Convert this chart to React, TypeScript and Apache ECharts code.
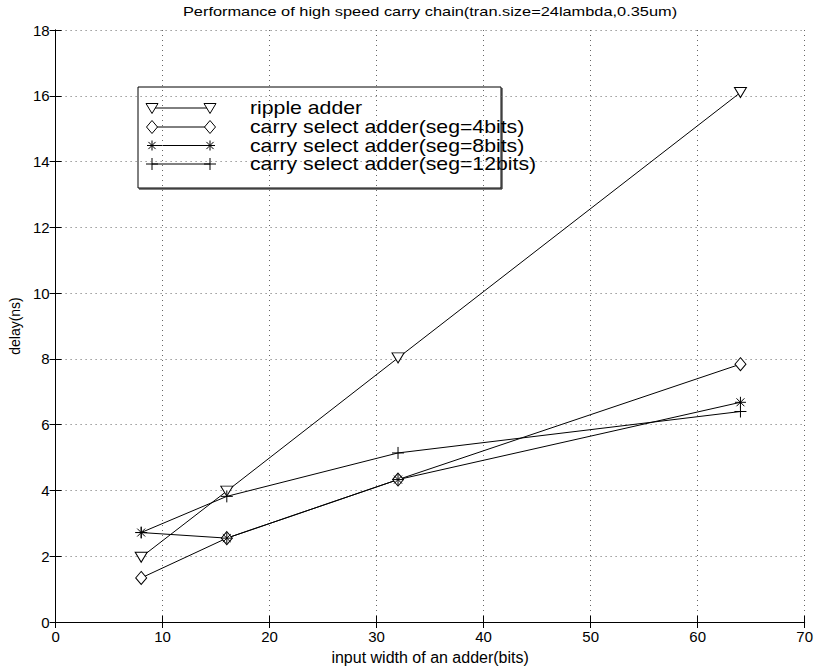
import React, { useEffect, useRef } from "react";
import * as echarts from "echarts";

// Adder input width (bits) on the x axis
const inputWidths = [8, 16, 32, 64];

// Measured delay (ns) per adder design
const rippleDelay = [1.97, 3.98, 8.03, 16.1];
const csaSeg4Delay = [1.34, 2.55, 4.33, 7.84];
const csaSeg8Delay = [2.72, 2.55, 4.33, 6.68];
const csaSeg12Delay = [2.72, 3.82, 5.14, 6.4];

const seriesNames = [
  "ripple adder",
  "carry select adder(seg=4bits)",
  "carry select adder(seg=8bits)",
  "carry select adder(seg=12bits)",
];

const titleText = "Performance of high speed carry chain(tran.size=24lambda,0.35um)";
const xAxisName = "input width of an adder(bits)";
const yAxisName = "delay(ns)";

const FONT = "'Liberation Sans', Arial, Helvetica, sans-serif";

const starPath =
  "path://M0,-1L0,1M-1,0L1,0M-0.72,-0.72L0.72,0.72M-0.72,0.72L0.72,-0.72";
const plusPath = "path://M0,-1L0,1M-1,0L1,0";

const toPairs = (ys: number[]) => inputWidths.map((x, i) => [x, ys[i]]);

export default function App() {
  const ref = useRef<HTMLDivElement>(null);

  useEffect(() => {
    document.body.style.margin = "0";
    if (!ref.current) return;
    const chart = echarts.init(ref.current, undefined, { renderer: "svg" });

    const gridL = 55;
    const gridT = 30;
    const gridR = 11;
    const gridB = 47;

    const baseSeries = {
      type: "line" as const,
      lineStyle: { color: "#000", width: 1 },
      emphasis: { disabled: true },
      z: 3,
    };

    // Legend drawn MATLAB-style: line sample with a marker at both ends
    const legX = 138;
    const legY = 87;
    const legW = 363;
    const legH = 101;
    const rowY = [108, 127, 145.5, 164];
    const sx0 = 152;
    const sx1 = 210;
    const textX = 250;

    const triangle = (cx: number, cy: number) => ({
      type: "polygon",
      shape: {
        points: [
          [cx - 6, cy - 4.5],
          [cx + 6, cy - 4.5],
          [cx, cy + 5.5],
        ],
      },
      style: { fill: "#fff", stroke: "#000", lineWidth: 1 },
    });
    const diamond = (cx: number, cy: number) => ({
      type: "polygon",
      shape: {
        points: [
          [cx, cy - 6.5],
          [cx + 5.5, cy],
          [cx, cy + 6.5],
          [cx - 5.5, cy],
        ],
      },
      style: { fill: "#fff", stroke: "#000", lineWidth: 1 },
    });
    const seg = (x1: number, y1: number, x2: number, y2: number) => ({
      type: "line",
      shape: { x1, y1, x2, y2 },
      style: { stroke: "#000", lineWidth: 1 },
    });
    const star = (cx: number, cy: number) => {
      const r = 5;
      const d = 3.6;
      return [
        seg(cx, cy - r, cx, cy + r),
        seg(cx - r, cy, cx + r, cy),
        seg(cx - d, cy - d, cx + d, cy + d),
        seg(cx - d, cy + d, cx + d, cy - d),
      ];
    };
    const plus = (cx: number, cy: number) => {
      const r = 6;
      return [seg(cx, cy - r, cx, cy + r), seg(cx - r, cy, cx + r, cy)];
    };

    const legendChildren: any[] = [
      {
        type: "rect",
        shape: { x: legX, y: legY, width: legW, height: legH },
        style: { fill: "#fff", stroke: "#000", lineWidth: 1 },
      },
      seg(legX + 1, legY + legH + 1, legX + legW + 1, legY + legH + 1),
      seg(legX + legW + 1, legY + 1, legX + legW + 1, legY + legH + 1),
    ];
    rowY.forEach((y, i) => {
      legendChildren.push(seg(sx0, y, sx1, y));
      if (i === 0) legendChildren.push(triangle(sx0, y), triangle(sx1, y));
      if (i === 1) legendChildren.push(diamond(sx0, y), diamond(sx1, y));
      if (i === 2) legendChildren.push(...star(sx0, y), ...star(sx1, y));
      if (i === 3) legendChildren.push(...plus(sx0, y), ...plus(sx1, y));
      legendChildren.push({
        type: "text",
        x: textX,
        y,
        scaleX: 1.18,
        style: {
          text: seriesNames[i],
          font: `18px ${FONT}`,
          fill: "#000",
          verticalAlign: "middle",
          align: "left",
        },
      });
    });

    const axisCommon = {
      axisLine: { show: true, lineStyle: { color: "#000", width: 1 } },
      axisTick: { show: true, inside: true, length: 6, lineStyle: { color: "#000" } },
    };

    chart.setOption({
      animation: false,
      backgroundColor: "#fff",
      grid: { left: gridL, top: gridT, right: gridR, bottom: gridB, containLabel: false },
      xAxis: [
        {
          type: "value",
          min: 0,
          max: 70,
          interval: 10,
          position: "bottom",
          ...axisCommon,
          axisLabel: { color: "#000", fontSize: 15, fontFamily: FONT, margin: 7 },
          splitLine: { show: true, lineStyle: { color: "#666", type: [1, 4], width: 1 } },
          name: xAxisName,
          nameLocation: "middle",
          nameGap: 27,
          nameTextStyle: { color: "#000", fontSize: 16, fontFamily: FONT },
        },
        {
          type: "value",
          min: 0,
          max: 70,
          interval: 10,
          position: "top",
          ...axisCommon,
          axisLabel: { show: false },
          splitLine: { show: false },
        },
      ],
      yAxis: [
        {
          type: "value",
          min: 0,
          max: 18,
          interval: 2,
          position: "left",
          ...axisCommon,
          axisLabel: { color: "#000", fontSize: 15, fontFamily: FONT, margin: 6 },
          splitLine: { show: true, lineStyle: { color: "#666", type: [1, 4], width: 1 } },
          name: yAxisName,
          nameLocation: "middle",
          nameGap: 33,
          nameTextStyle: { color: "#000", fontSize: 14, fontFamily: FONT },
        },
        {
          type: "value",
          min: 0,
          max: 18,
          interval: 2,
          position: "right",
          ...axisCommon,
          axisLabel: { show: false },
          splitLine: { show: false },
        },
      ],
      series: [
        {
          ...baseSeries,
          name: seriesNames[0],
          data: toPairs(rippleDelay),
          symbol: "triangle",
          symbolRotate: 180,
          symbolSize: [12, 10],
          itemStyle: { color: "#fff", borderColor: "#000", borderWidth: 1 },
        },
        {
          ...baseSeries,
          name: seriesNames[1],
          data: toPairs(csaSeg4Delay),
          symbol: "diamond",
          symbolSize: [11, 13],
          itemStyle: { color: "#fff", borderColor: "#000", borderWidth: 1 },
        },
        {
          ...baseSeries,
          name: seriesNames[2],
          data: toPairs(csaSeg8Delay),
          symbol: starPath,
          symbolSize: [11, 11],
          itemStyle: { color: "#000", borderColor: "#000", borderWidth: 1 },
        },
        {
          ...baseSeries,
          name: seriesNames[3],
          data: toPairs(csaSeg12Delay),
          symbol: plusPath,
          symbolSize: [12, 12],
          itemStyle: { color: "#000", borderColor: "#000", borderWidth: 1 },
        },
      ],
      graphic: [
        {
          type: "text",
          x: 430,
          y: 12,
          z: 100,
          scaleX: 1.26,
          style: {
            text: titleText,
            font: `13px ${FONT}`,
            fill: "#000",
            align: "center",
            verticalAlign: "middle",
          },
        },
        { type: "group", z: 100, children: legendChildren },
      ],
    });

    return () => chart.dispose();
  }, []);

  return <div ref={ref} style={{ width: 816, height: 670 }} />;
}
